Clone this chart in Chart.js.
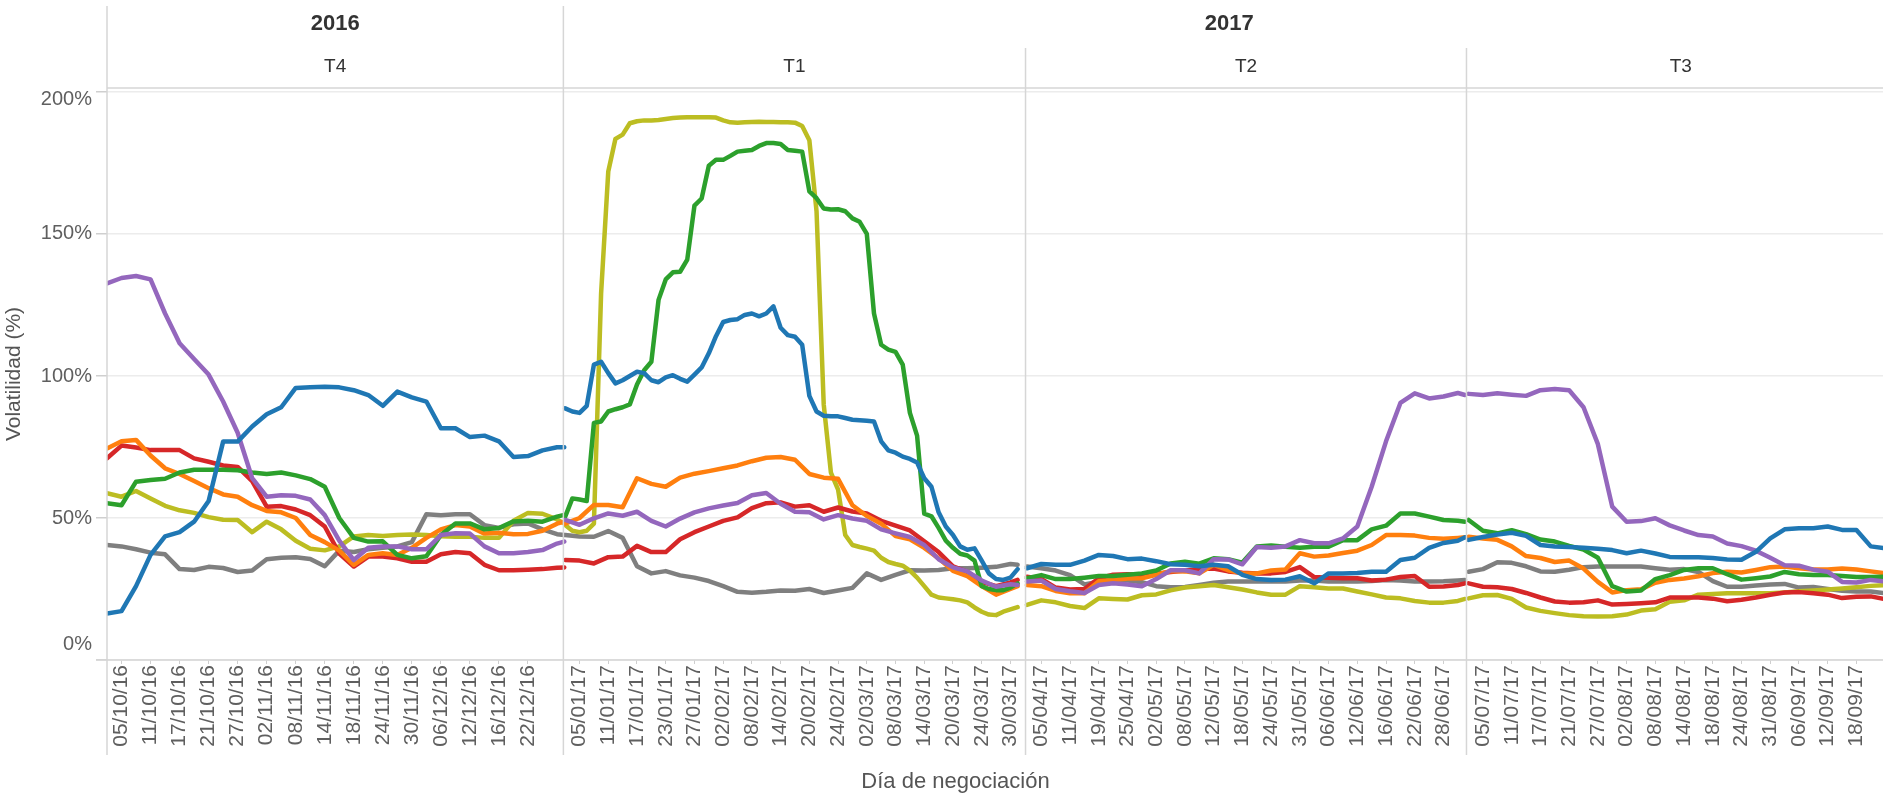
<!DOCTYPE html>
<html>
<head>
<meta charset="utf-8">
<script src="https://cdn.jsdelivr.net/npm/chart.js@4.4.1/dist/chart.umd.min.js"></script>
<style>
  html, body { margin: 0; padding: 0; background: #fff; }
  #wrap { position: relative; width: 1883px; height: 793px; overflow: hidden; font-family: 'Liberation Sans', Arial, sans-serif; }
  #chart { position: absolute; left: 0; top: 0; }
  .hdr { position: absolute; transform: translate(-50%, -50%); white-space: nowrap; color: #333; font-size: 19px; }
  .year { font-weight: bold; font-size: 22px; }
  #xtitle { position: absolute; transform: translate(-50%, -50%); white-space: nowrap; color: #555; font-size: 22px; }
</style>
</head>
<body>
<div id="wrap">
  <canvas id="chart" width="1883" height="793"></canvas>
  <div class="hdr year" id="y2016">2016</div>
  <div class="hdr year" id="y2017">2017</div>
  <div class="hdr" id="qT4">T4</div>
  <div class="hdr" id="qT1">T1</div>
  <div class="hdr" id="qT2">T2</div>
  <div class="hdr" id="qT3">T3</div>
  <div id="xtitle">Día de negociación</div>
</div>
<script>
// Quarter panels, labels shown under each one (every 4th trading day)
const QUARTERS = ['T4', 'T1', 'T2', 'T3'];
const YEARS = ['2016', '2017'];

const T4_TICKS = ['05/10/16', '11/10/16', '17/10/16', '21/10/16', '27/10/16', '02/11/16', '08/11/16', '14/11/16', '18/11/16', '24/11/16', '30/11/16', '06/12/16', '12/12/16', '16/12/16', '22/12/16'];
const T1_TICKS = ['05/01/17', '11/01/17', '17/01/17', '23/01/17', '27/01/17', '02/02/17', '08/02/17', '14/02/17', '20/02/17', '24/02/17', '02/03/17', '08/03/17', '14/03/17', '20/03/17', '24/03/17', '30/03/17'];
const T2_TICKS = ['05/04/17', '11/04/17', '19/04/17', '25/04/17', '02/05/17', '08/05/17', '12/05/17', '18/05/17', '24/05/17', '31/05/17', '06/06/17', '12/06/17', '16/06/17', '22/06/17', '28/06/17'];
const T3_TICKS = ['05/07/17', '11/07/17', '17/07/17', '21/07/17', '27/07/17', '02/08/17', '08/08/17', '14/08/17', '18/08/17', '24/08/17', '31/08/17', '06/09/17', '12/09/17', '18/09/17'];

// last trading-day index in each quarter
const LAST_DAY = [63, 63, 61, 58];

// Volatility (%). Most series are read every 2 trading days;
// the fast moving ones in T1 are read every trading day.
const T4_PURPLE = [132.6, 134.5, 135.2, 134, 122, 111.5, 106, 100.5, 91, 80, 64, 57.5, 58, 57.8, 56.5, 51, 42, 35.2, 39.5, 40, 40, 39, 39, 44, 44.6, 44.5, 40, 37.6, 37.6, 38, 38.7, 41, 41.7];
const T4_BLUE = [16.4, 17.2, 26, 37, 43.5, 45, 48.7, 56, 76.9, 76.9, 82.2, 86.5, 89, 95.8, 96, 96.2, 96, 95, 93.3, 89.5, 94.5, 92.5, 91, 81.6, 81.6, 78.5, 79, 77, 71.5, 71.8, 73.8, 74.9, 74.9];
const T4_RED = [71, 75.5, 74.8, 73.9, 73.9, 73.9, 71, 69.8, 68.5, 68, 63, 54, 54.2, 53, 51, 47, 37.5, 32.9, 36.4, 36.4, 35.8, 34.6, 34.6, 37.2, 38, 37.6, 33.5, 31.6, 31.6, 31.8, 32, 32.5, 32.6];
const T4_ORANGE = [74.5, 77, 77.5, 72, 67.5, 65.5, 63, 60.5, 58.3, 57.5, 54.5, 52.5, 52, 50, 44, 41.5, 38.5, 33.5, 37, 37.6, 37, 39.5, 43, 46, 47.5, 47, 44.5, 44.8, 44.3, 44.4, 45.5, 48, 48.7];
const T4_GREEN = [55.2, 54.5, 62.8, 63.4, 63.8, 66, 67, 67, 67, 66.8, 66, 65.5, 66, 65, 63.7, 61, 50, 43, 41.7, 41.8, 37, 35.8, 36.5, 44, 48.1, 48.1, 46, 46.5, 48.8, 49, 48.7, 50.5, 51.1];
const T4_OLIVE = [58.7, 57.5, 59.5, 56.9, 54.3, 52.7, 51.8, 50.3, 49.4, 49.3, 45, 48.7, 46, 42, 39.2, 38.6, 40, 43.5, 44, 43.7, 44, 44.2, 44, 43.6, 43.4, 43.4, 43, 43, 49, 51.8, 51.5, 49.5, 48.1];
const T4_GRAY = [40.5, 40, 39, 37.8, 37.2, 32, 31.7, 32.8, 32.4, 31, 31.5, 35.5, 36, 36.2, 35.6, 33, 38.5, 38, 39, 39.5, 40, 41.5, 51.3, 51, 51.3, 51.3, 47.5, 46.5, 47.8, 48.1, 46, 44.3, 44];

const T1_PURPLE = [49.3, 47.6, 49.9, 51.6, 50.8, 52.2, 49, 47, 49.8, 52, 53.4, 54.4, 55.3, 58, 58.8, 55, 52.2, 52, 49.5, 51, 49.8, 49, 46, 44.6, 43.3, 40.5, 35.5, 32.6, 31.2, 28, 25.8, 26.7, 26.4];
const T1_BLUE = [
  88.6, 87.5, 87, 89.5, 104, 105, 101, 97.4, 98.5, 100,
  101.5, 101, 98.5, 97.8, 99.5, 100.3, 99, 98, 100.5, 103,
  108, 114, 119, 119.7, 120, 121.5, 122, 121, 122, 124.5,
  117, 114.4, 113.8, 111, 93, 87.5, 86, 85.8, 85.8, 85.2,
  84.6, 84.4, 84.2, 84, 77, 73.8, 73, 71.6, 70.8, 69.5,
  64, 61, 52, 47, 44, 40, 38.8, 39.3, 35, 30.5,
  28.5, 28.2, 29, 32];
const T1_RED = [35.2, 35, 34, 36.2, 36.4, 40.2, 38, 38, 42.5, 45, 47, 49, 50.2, 53.5, 55.2, 55.5, 54, 54.5, 52.2, 53.7, 52.3, 51.6, 49, 47.3, 45.6, 41.8, 38, 33, 31, 27.5, 26, 27.3, 28.2];
const T1_ORANGE = [48, 50, 54.6, 54.6, 53.8, 64, 62, 61, 64.2, 65.6, 66.5, 67.5, 68.5, 70, 71.2, 71.5, 70.5, 65.5, 64.2, 63.8, 54.5, 50.7, 48, 43.6, 42.5, 39.5, 35.8, 31.4, 29.5, 26, 23, 25, 26];
const T1_GREEN = [
  50.5, 56.9, 56.5, 56, 83.5, 84, 87.5, 88.3, 89, 90,
  97, 102, 105, 126.8, 134, 136.5, 136.7, 141, 160, 162.5,
  174, 176.1, 176.1, 177.5, 179, 179.3, 179.6, 181, 182, 182,
  181.7, 179.6, 179.3, 179, 165, 162.6, 159, 158.6, 158.7, 158,
  155.5, 154.3, 150, 122, 111, 109.3, 108.5, 104, 87, 79,
  51.5, 50.6, 46.5, 42, 39.5, 37.4, 36.8, 35, 26, 25,
  24.6, 24.6, 25.5, 27];
const T1_OLIVE = [
  47.5, 45.5, 45, 45.5, 48, 129, 172, 183.5, 185, 189,
  189.7, 190, 190, 190.1, 190.5, 190.8, 191, 191.1, 191.1, 191.1,
  191.1, 191, 190, 189.3, 189.2, 189.3, 189.4, 189.5, 189.4, 189.4,
  189.3, 189.3, 189.2, 188, 183, 158, 90, 66, 60, 44,
  40.5, 39.8, 39.2, 38.5, 36, 34.5, 33.8, 33.2, 31.5, 29,
  26, 23, 22, 21.7, 21.4, 21, 20.3, 18.5, 17, 16,
  15.8, 17, 17.8, 18.6];
const T1_GRAY = [44, 43.5, 43.4, 45.4, 43, 33, 30.5, 31.3, 29.8, 29, 27.8, 26, 24, 23.7, 24, 24.5, 24.4, 25, 23.6, 24.5, 25.4, 30.5, 28.2, 30, 31.6, 31.5, 31.7, 32.3, 32.3, 32.5, 32.8, 33.8, 33.5];

const T2_PURPLE = [27.6, 28, 25, 24.2, 23.6, 26.4, 27, 26.6, 26, 28.5, 31.6, 31.6, 30.5, 35.5, 35.4, 33.7, 39.8, 39.5, 40, 42.2, 41.1, 41.1, 42.8, 47, 61, 77, 90.5, 93.9, 92.1, 92.8, 94, 93.3];
const T2_BLUE = [32.3, 33.8, 33.5, 33.5, 35, 37, 36.6, 35.5, 35.7, 34.8, 33.7, 33.5, 33, 33.5, 33, 30, 28.5, 28.2, 28.3, 29.5, 27, 30.5, 30.5, 30.6, 31.1, 31.1, 35.2, 36, 39.5, 41.2, 42, 43.2];
const T2_RED = [29.3, 28.5, 25.5, 24.8, 25, 28.8, 30, 30.2, 30, 30.4, 31, 31.5, 32, 32.2, 31.2, 30.7, 30.5, 30.5, 31, 32.7, 29.2, 29, 28.8, 28.8, 28, 28.3, 29.2, 29.6, 25.8, 25.9, 26.4, 27];
const T2_ORANGE = [26.4, 26, 24.3, 23.5, 23.5, 27.7, 28.2, 28.7, 28.8, 30, 31.3, 31.2, 30.5, 33.5, 31.6, 30.5, 30.5, 31.5, 31.9, 37.6, 36.4, 36.8, 37.7, 38.5, 40.5, 44, 44, 43.8, 43, 42.7, 43, 43.2];
const T2_GREEN = [28.8, 29.9, 28.5, 28.5, 29, 29.6, 29.6, 30, 30.5, 31.5, 34, 34.6, 33.9, 35.8, 35.5, 34.3, 40, 40.3, 39.9, 39.5, 39.9, 39.9, 42.2, 42.2, 46, 47.3, 51.6, 51.6, 50.5, 49.3, 49, 48.7];
const T2_OLIVE = [19.4, 21, 20.3, 19, 18.3, 21.7, 21.5, 21.3, 22.8, 23.1, 24.5, 25.5, 26, 26.4, 25.6, 24.8, 23.8, 23, 23, 26, 25.6, 25.2, 25.2, 24.1, 23.1, 22, 21.7, 20.8, 20.2, 20.2, 20.8, 21.5];
const T2_GRAY = [32.9, 32.3, 31.5, 29.9, 26.6, 27.6, 28, 28, 27.4, 26, 25.6, 25.7, 26.4, 27.2, 27.6, 27.6, 27.6, 27.6, 27.6, 28, 28, 27.6, 27.6, 27.6, 27.8, 28.2, 28, 27.6, 27.6, 27.7, 28, 28.2];

const T3_PURPLE = [93.7, 93.3, 93.9, 93.4, 93, 95, 95.4, 95, 89, 76, 54, 48.7, 48.9, 49.9, 47.4, 45.6, 44, 43.5, 41, 40.1, 38.5, 36, 33.4, 33.2, 31.8, 31.1, 27.5, 27.3, 28.2, 27.6];
const T3_BLUE = [42.3, 43.3, 44.2, 44.8, 43.7, 40.5, 40, 39.8, 39.5, 39.2, 38.7, 37.6, 38.5, 37.5, 36.3, 36.2, 36.2, 35.9, 35.4, 35.3, 38.1, 42.8, 46, 46.4, 46.4, 47, 45.8, 45.8, 40, 39.3];
const T3_RED = [27, 25.8, 25.6, 25, 23.6, 22, 20.6, 20.2, 20.3, 21, 19.5, 19.7, 20, 20.3, 22, 22, 22, 21.6, 20.7, 21.2, 22, 23, 23.8, 23.9, 23.5, 23, 21.8, 22.3, 22.4, 21.4];
const T3_ORANGE = [43.4, 42.8, 42.3, 40, 36.6, 35.9, 34.5, 35, 32.2, 27.5, 23.8, 24.6, 24.9, 27.2, 28.2, 28.7, 29.5, 30.6, 31.1, 30.8, 31.7, 32.7, 32.9, 32.3, 31.9, 31.9, 32.2, 31.9, 31.2, 30.5];
const T3_GREEN = [49.3, 45.5, 44.6, 45.7, 44.3, 42.4, 41.7, 40.2, 38.9, 36, 26, 24.1, 24.5, 28.5, 29.9, 31.7, 32.3, 32.3, 30.2, 28.3, 28.8, 29.4, 31, 30.2, 29.9, 29.9, 29.6, 29.2, 29.2, 29.3];
const T3_OLIVE = [21.7, 22.8, 22.9, 21.5, 18.5, 17.3, 16.5, 15.8, 15.4, 15.3, 15.4, 16, 17.4, 17.9, 20.5, 21, 23, 23.2, 23.5, 23.5, 23.5, 23.5, 23.8, 24.2, 24.5, 24.8, 25.2, 25.6, 26.1, 26.4];
const T3_GRAY = [31.1, 32, 34.4, 34.2, 33, 31.2, 31.1, 31.8, 32.7, 32.9, 32.9, 32.9, 32.9, 32.3, 31.8, 32, 31, 27.8, 25.8, 25.8, 26.2, 26.6, 26.8, 25.5, 25.7, 25, 24.4, 24.1, 24.1, 23.5];

// first listed is drawn on top
const SERIES = [
  { color: '#1f77b4', panels: [T4_BLUE, T1_BLUE, T2_BLUE, T3_BLUE] },
  { color: '#9467bd', panels: [T4_PURPLE, T1_PURPLE, T2_PURPLE, T3_PURPLE] },
  { color: '#2ca02c', panels: [T4_GREEN, T1_GREEN, T2_GREEN, T3_GREEN] },
  { color: '#ff7f0e', panels: [T4_ORANGE, T1_ORANGE, T2_ORANGE, T3_ORANGE] },
  { color: '#d62728', panels: [T4_RED, T1_RED, T2_RED, T3_RED] },
  { color: '#bcbd22', panels: [T4_OLIVE, T1_OLIVE, T2_OLIVE, T3_OLIVE] },
  { color: '#7f7f7f', panels: [T4_GRAY, T1_GRAY, T2_GRAY, T3_GRAY] },
];

// layout: where each quarter starts on the shared x axis, its day width, and the pane separators
const PANEL_START = [0, 63.8, 128.1, 189.6];
const PANEL_STEP = [1.0107, 1, 1, 1];
const DIVIDERS = [63.55, 127.9, 189.3];
const X_MAX = 247.3;
const RIGHT_BLEED = 12; // the last quarter is cut by the picture edge

const dayPos = (p, d) => PANEL_START[p] + d * PANEL_STEP[p];

const TICK_LABELS = [T4_TICKS, T1_TICKS, T2_TICKS, T3_TICKS];
const tickValues = [];
const tickTexts = [];
TICK_LABELS.forEach((labels, p) => {
  labels.forEach((lbl, k) => {
    tickValues.push(dayPos(p, 2 + 4 * k));
    tickTexts.push(lbl);
  });
});

function buildPoints(panels) {
  const pts = [];
  panels.forEach((vals, p) => {
    const every = vals.length > LAST_DAY[p] ? 1 : 2;
    vals.forEach((v, k) => pts.push({ x: dayPos(p, Math.min(every * k, LAST_DAY[p])), y: v }));
    pts.push({ x: dayPos(p, LAST_DAY[p]) + 0.2, y: null });
  });
  return pts;
}

const FONT = "'Liberation Sans', Arial, sans-serif";

// pane borders and separators, drawn over the line ends like the panes clip them
const frame = {
  id: 'frame',
  afterDatasetsDraw(chart) {
    const { ctx, chartArea: a, scales: { x } } = chart;
    const line = (x1, y1, x2, y2) => {
      ctx.beginPath();
      ctx.moveTo(x1, y1);
      ctx.lineTo(x2, y2);
      ctx.stroke();
    };
    ctx.save();
    ctx.strokeStyle = '#d6d6d6';
    ctx.lineWidth = 1.5;
    line(a.left, 6, a.left, 755);
    DIVIDERS.forEach((g, i) => {
      const px = x.getPixelForValue(g);
      line(px, i === 0 ? 6 : 48, px, 755);
    });
    line(a.left, a.top, a.right, a.top);
    line(a.left - 11, a.bottom, a.right, a.bottom);
    ctx.restore();
  },
};

// Tableau nudges the end labels inside the axis: extra empty lines shift them
function yLabel(v) {
  if (v === 200) return ['', '200%'];
  if (v === 0) return ['0%', '', ''];
  return v + '%';
}

const chart = new Chart(document.getElementById('chart'), {
  type: 'line',
  data: {
    datasets: SERIES.map(s => ({
      data: buildPoints(s.panels),
      borderColor: s.color,
      backgroundColor: s.color,
      borderWidth: 4.5,
      pointRadius: 0,
      tension: 0,
      borderJoinStyle: 'round',
      borderCapStyle: 'round',
      spanGaps: false,
    })),
  },
  options: {
    responsive: false,
    animation: false,
    layout: { padding: { top: 88, right: 0, bottom: 0, left: 0 } },
    plugins: {
      legend: { display: false },
      tooltip: { enabled: false },
    },
    scales: {
      x: {
        type: 'linear',
        min: 0,
        max: X_MAX,
        afterFit: (scale) => { scale.height = 133; },
        afterBuildTicks: (scale) => { scale.ticks = tickValues.map(v => ({ value: v })); },
        ticks: {
          autoSkip: false,
          minRotation: 90,
          maxRotation: 90,
          padding: 1,
          color: '#5f5f5f',
          font: { family: FONT, size: 21 },
          callback: (value, index) => tickTexts[index],
        },
        grid: { drawOnChartArea: false, tickLength: 4, tickColor: '#cfcfcf' },
        border: { display: false },
      },
      y: {
        min: 0,
        max: 201.4,
        afterFit: (scale) => { scale.width = 107; },
        afterBuildTicks: (scale) => { scale.ticks = [0, 50, 100, 150, 200].map(v => ({ value: v })); },
        ticks: {
          padding: 4,
          color: '#5f5f5f',
          font: { family: FONT, size: 20, lineHeight: 0.8 },
          callback: yLabel,
        },
        grid: { color: '#ececec', lineWidth: 1.5, tickLength: 11, tickColor: '#cfcfcf' },
        border: { display: false },
        title: {
          display: true,
          text: 'Volatilidad (%)',
          color: '#555',
          font: { family: FONT, size: 21 },
          padding: { top: 2, bottom: 0 },
        },
      },
    },
  },
  plugins: [frame],
});

// headers above the panes
function place(id, x, y) {
  const el = document.getElementById(id);
  el.style.left = x + 'px';
  el.style.top = y + 'px';
}
const xs = chart.scales.x;
const area = chart.chartArea;
const edges = [area.left, ...DIVIDERS.map(g => xs.getPixelForValue(g)), area.right + RIGHT_BLEED];
QUARTERS.forEach((q, i) => place('q' + q, (edges[i] + edges[i + 1]) / 2, 66));
place('y' + YEARS[0], (edges[0] + edges[1]) / 2, 23);
place('y' + YEARS[1], (edges[1] + edges[4]) / 2, 23);
place('xtitle', edges[4] / 2 + 8, 781);
</script>
</body>
</html>
